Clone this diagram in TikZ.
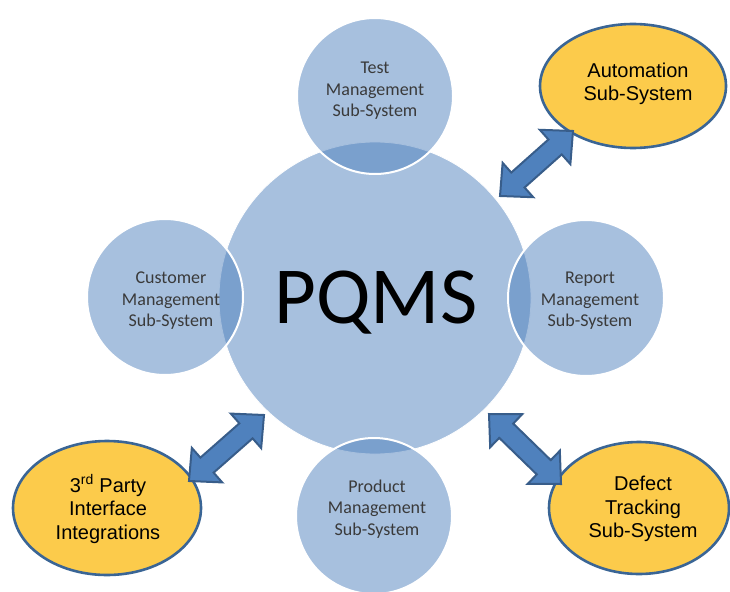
\documentclass[tikz,border=0pt]{standalone}
\usepackage{fontspec}
\setmainfont{Carlito}
\newfontfamily\arialf{Liberation Sans}
\usetikzlibrary{shapes.geometric,calc}
\definecolor{circblue}{HTML}{4F81BD}
\definecolor{gold}{HTML}{FCCB4B}
\definecolor{edgeblue}{HTML}{3A6595}
\definecolor{arrowfill}{HTML}{4F81BD}
\definecolor{arrowedge}{HTML}{385D8A}
\definecolor{txtgray}{HTML}{3A3A3A}
\tikzset{
  hub/.style={circle,minimum size=312pt,inner sep=0pt,fill=circblue,fill opacity=0.5,draw=white,line width=0.8pt},
  sat/.style={circle,minimum size=156pt,inner sep=0pt,fill=circblue,fill opacity=0.5,draw=white,line width=2pt},
  sattext/.style={align=center,font=\fontsize{18}{21.5}\selectfont,text=txtgray},
  extbox/.style={ellipse,inner sep=0pt,fill=gold,draw=edgeblue,line width=2.6pt},
  exttext/.style={align=center,font=\arialf\fontsize{20}{23.5}\selectfont,text=black},
  barrow/.style={fill=arrowfill,draw=arrowedge,line width=2pt,line join=miter}
}
\newcommand\blockarrow[2]{%
  \draw[barrow] let \p1=($(#2)-(#1)$), \n1={atan2(\y1,\x1)} in
  (#1) -- ($(#1)+(\n1:24pt)+({\n1+90}:23pt)$) -- ($(#1)+(\n1:24pt)+({\n1+90}:10pt)$)
  -- ($(#2)+(\n1:-24pt)+({\n1+90}:10pt)$) -- ($(#2)+(\n1:-24pt)+({\n1+90}:23pt)$)
  -- (#2) -- ($(#2)+(\n1:-24pt)+({\n1-90}:23pt)$) -- ($(#2)+(\n1:-24pt)+({\n1-90}:10pt)$)
  -- ($(#1)+(\n1:24pt)+({\n1-90}:10pt)$) -- ($(#1)+(\n1:24pt)+({\n1-90}:23pt)$) -- cycle;}
\begin{document}
\begin{tikzpicture}[x=1pt,y=-1pt]
\useasboundingbox (0,0) rectangle (730,591);
% hub
\node[hub] (pqms) at (375,298) {};
% satellites
\node[sat] (test) at (375,96) {};
\node[sat] (cust) at (165,297) {};
\node[sat] (rep) at (586,298) {};
\node[sat] (prod) at (374,516) {};
\node[anchor=base,font=\fontsize{81}{90}\selectfont] (pqmst) at (376,323) {PQMS};
\node[sattext] (testt) at (375,91) {Test\\Management\\Sub-System};
\node[sattext] (custt) at (171,301) {Customer\\Management\\Sub-System};
\node[sattext] (rept) at (590,301) {Report\\Management\\Sub-System};
\node[sattext] (prodt) at (377,509) {Product\\Management\\Sub-System};
% external systems
\node[extbox,minimum width=186pt,minimum height=124pt] (auto) at (633,86) {};
\node[exttext] (autot) at (638,84) {Automation\\Sub-System};
\node[extbox,minimum width=188pt,minimum height=134pt] (third) at (107,508) {};
\node[exttext] (thirdt) at (108,509) {3\textsuperscript{rd} Party\\Interface\\Integrations};
\node[extbox,minimum width=180pt,minimum height=132pt] (defect) at (639,508) {};
\node[exttext] (defectt) at (643,509) {Defect\\Tracking\\Sub-System};
% arrow ends
\coordinate (a1) at (500,196);
\coordinate (a2) at (573,131);
\coordinate (b1) at (189,481);
\coordinate (b2) at (264,415);
\coordinate (c1) at (489,414);
\coordinate (c2) at (561,484);
\blockarrow{a1}{a2}
\blockarrow{b1}{b2}
\blockarrow{c1}{c2}
\end{tikzpicture}
\end{document}
